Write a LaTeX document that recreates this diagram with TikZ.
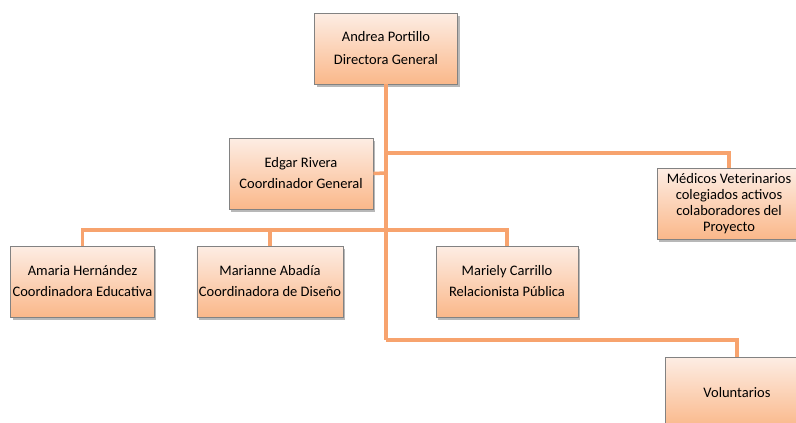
\documentclass[tikz,border=0pt]{standalone}
\usepackage{fontspec}
\setmainfont{Carlito}
\usetikzlibrary{shadows}
\definecolor{linec}{RGB}{247,163,110}
\definecolor{boxtop}{RGB}{253,237,228}
\definecolor{boxbot}{RGB}{250,184,138}
\definecolor{boxedge}{RGB}{130,130,130}
\tikzset{
  orgbox/.style={draw=boxedge, line width=0.8pt, top color=boxtop, bottom color=boxbot,
    minimum width=144pt, minimum height=71pt, align=center, inner sep=2pt,
    font=\fontsize{14.5}{21}\selectfont,
    drop shadow={shadow xshift=2pt, shadow yshift=-3pt, fill=black!55, opacity=0.5}},
  link/.style={draw=linec, line width=3.5pt}
}
\begin{document}
\begin{tikzpicture}[x=1pt,y=-1pt]
\useasboundingbox (0,0) rectangle (796,423);
\clip (0,0) rectangle (796,423);
\fill[white] (0,0) rectangle (796,423);
\coordinate (t1) at (386,153);
\coordinate (t2) at (386,173);
\coordinate (t3) at (386,230);
\coordinate (t4) at (386,340);
\node[orgbox, minimum width=143pt, font=\fontsize{14.5}{23}\selectfont] (andrea) at (386,48.5) {Andrea Portillo\\Directora General};
\node[orgbox] (edgar) at (301,173.5) {Edgar Rivera\\Coordinador General};
\node[orgbox, font=\fontsize{14.5}{16}\selectfont] (medicos) at (729,203.5) {Médicos Veterinarios\\colegiados activos\\colaboradores del\\Proyecto};
\node[orgbox, minimum width=143pt] (amaria) at (82.5,281.5) {Amaria Hernández\\Coordinadora Educativa};
\node[orgbox] (marianne) at (270,281.5) {Marianne Abadía\\Coordinadora de Diseño};
\node[orgbox, minimum width=142pt] (mariely) at (507,281.5) {Mariely Carrillo\\Relacionista Pública};
\node[orgbox] (volunt) at (737,392.5) {Voluntarios};
\draw[link] (andrea.south) -- (t4);
\draw[link] (edgar.east) -- (t2);
\draw[link] (t1) -| (medicos.north);
\draw[link] (t3) -| (amaria.north);
\draw[link] (t3) -| (marianne.north);
\draw[link] (t3) -| (mariely.north);
\draw[link] (t4) -| (volunt.north);
\end{tikzpicture}
\end{document}
